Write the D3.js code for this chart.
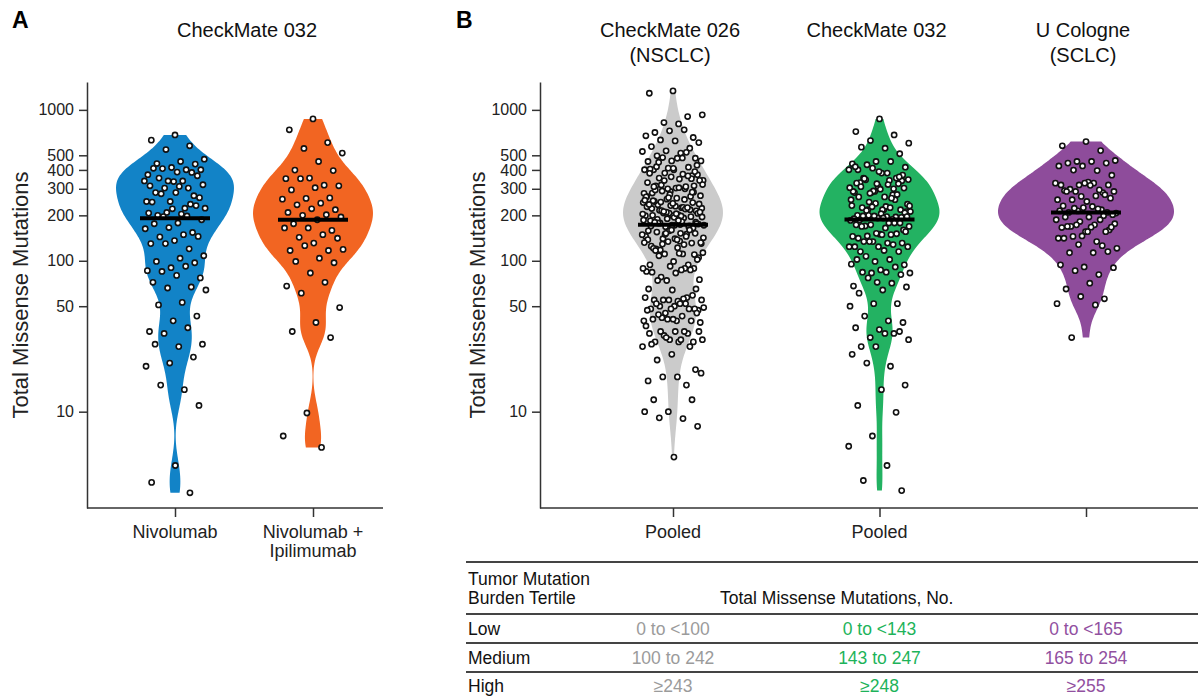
<!DOCTYPE html>
<html>
<head>
<meta charset="utf-8">
<script src="https://cdn.jsdelivr.net/npm/d3@7"></script>
<style>
  body { margin: 0; background: #fff; }
  svg { font-family: "Liberation Sans", Arial, Helvetica, sans-serif; }
</style>
</head>
<body>
<svg id="chart" width="1198" height="698"></svg>
<script>
// ---- data (total missense mutations per patient) ----
const nivolumab = [682, 630, 578, 546, 471, 455, 441, 437, 415, 372, 401, 408, 401, 387, 410, 385,
  338, 338, 338, 353, 366, 335, 314, 303, 303, 319, 311, 283, 270, 247, 247, 223, 278, 262, 283, 245,
  237, 209, 223, 204, 200, 232, 221, 207, 198, 196, 187, 178, 176, 154, 166, 163, 149, 144, 145, 136,
  130, 120, 130, 108, 104, 99, 97, 90, 86, 92, 85, 77, 80, 72, 67, 66, 64, 53, 51, 43, 40, 34, 36, 33,
  28, 27, 28, 23, 21, 20, 14, 15, 11, 4.4, 3.4, 2.9];

const nivoIpi = [871, 738, 607, 555, 517, 455, 399, 396, 353, 350, 317, 350, 314, 305, 295, 261, 259,
  256, 241, 235, 218, 221, 209, 202, 200, 195, 187, 176, 159, 165, 165, 149, 143, 141, 131, 117, 117,
  126, 119, 104, 99, 97, 83, 68, 72, 61, 49, 39, 34, 31, 9.8, 6.9, 5.8];

const cm026 = [1336, 1289, 903, 824, 927, 807, 708, 656, 726, 673, 738, 632, 607, 623, 571, 557, 535,
  530, 517, 496, 478, 459, 455, 523, 483, 459, 478, 401, 366, 411, 401, 375, 353, 372, 401, 405, 417,
  381, 341, 348, 314, 314, 288, 267, 300, 318, 341, 303, 281, 267, 256, 243, 225, 235, 214, 199, 231,
  223, 207, 223, 202, 247, 243, 207, 199, 192, 178, 175, 172, 170, 170, 168, 172, 174,
  420, 390, 360, 330, 310, 290, 270, 260, 250, 350, 300, 280,
  480, 450, 430, 410, 380, 365, 340, 320, 305, 295, 285, 275, 265, 255, 245, 238, 230, 222, 218, 210,
  204, 198, 188, 180, 172,
  158, 150, 140, 130, 122, 310, 285, 262, 252, 226, 216, 206, 194, 184, 168, 150, 142, 135, 120, 110,
  232, 228, 220, 215, 210, 205, 200, 196, 190, 186, 182, 178, 176, 240, 236, 225, 212, 195, 185, 180,
  165, 158, 145, 128, 118, 105, 140, 125,
  160, 152, 149, 152, 155, 152, 160, 138, 145, 129, 132, 138, 121, 131, 134, 132,
  111, 108, 102, 99, 94, 94, 111, 113, 112, 117, 89, 92, 85, 89, 78, 75, 83, 84, 87, 74, 89, 87, 74,
  65, 64, 65, 57, 55, 55, 54, 55, 59, 55, 57, 56, 50, 47, 50, 48, 48, 45, 49, 52, 52, 48, 48, 47, 52,
  42, 39, 40, 41, 40, 41, 40, 43, 44, 45, 41, 33, 33, 32, 30, 29, 29, 29, 30, 37, 34, 34, 34, 34,
  28, 27, 31, 27, 30, 22, 19, 24, 16, 15, 17, 18, 17, 12, 12, 10, 10, 9.0, 9.1, 8.0, 5.0];

const cm032 = [871, 718, 682, 626, 602, 557, 566, 512, 455, 439, 455, 433, 417, 381, 401, 353,
  411, 401, 381, 353, 339, 311, 283, 274, 245, 237, 218,
  330, 324, 288, 254, 341, 344, 303, 298, 327, 254, 283, 231, 229, 225, 218, 324, 288, 260, 218, 212, 218,
  265, 275, 290, 305, 320, 350, 370, 390, 420, 300, 280, 345, 265, 310, 360,
  240, 232, 225, 215, 208, 205, 200, 195, 228, 212,
  196, 198, 194, 192, 190, 188, 200, 196, 192, 186, 182, 198,
  185, 178, 170, 160, 150, 173, 178, 173, 169, 165, 169, 178,
  152, 145, 149, 146, 156, 149, 141, 151, 134, 124, 131, 134, 131, 124, 124, 128, 134, 124, 117, 115, 115,
  99, 95, 102, 107, 94, 87, 102, 91, 83, 83, 84, 84, 81, 72, 68, 71, 77,
  67, 64, 61, 52, 52, 50, 40, 43, 39, 35, 36, 33, 31, 30, 33, 27, 34, 27, 24,
  20, 21, 15, 14, 11, 9.9, 6.9, 5.9, 4.4, 3.5, 3.0];

const cologne = [616, 578, 537, 455, 462, 455, 444, 444, 425, 425, 396, 399, 369,
  332, 292, 283, 318, 327, 327, 298, 318, 327, 318, 295, 288, 288, 316, 288, 274, 267, 254,
  269, 254, 260, 247, 231, 218, 214, 207, 229, 209, 209, 225, 214, 221, 223, 202,
  195, 195, 199, 182, 187, 173, 169, 160, 156, 166, 187, 173, 176, 167, 169, 156, 146, 141, 134, 145,
  167, 156, 141, 126, 128, 121, 113, 113, 115, 91, 94, 81, 86, 90, 71, 65, 56, 58, 52, 51, 31];

const panelAArms = ["Nivolumab", "Nivolumab + Ipilimumab"];
const panelAArmLines = [["Nivolumab"], ["Nivolumab +", "Ipilimumab"]];
const panelBCohorts = ["CheckMate 026 (NSCLC)", "CheckMate 032", "U Cologne (SCLC)"];
const panelBTitleLines = [["CheckMate 026", "(NSCLC)"], ["CheckMate 032"], ["U Cologne", "(SCLC)"]];
const panelBTickLabels = ["Pooled", "Pooled", ""];
const yTicks = [10, 50, 100, 200, 300, 400, 500, 1000];

const tertiles = ["Low", "Medium", "High"];
const cm026Ranges = ["0 to <100", "100 to 242", "≥243"];
const cm032Ranges = ["0 to <143", "143 to 247", "≥248"];
const cologneRanges = ["0 to <165", "165 to 254", "≥255"];

// ---- layout ----
const plotTop = 82, plotBottom = 508;
const axisColor = '#333';
const svg = d3.select('#chart');

const y = d3.scaleLog().domain([2.3, 1530]).range([plotBottom, plotTop]);
const xA = d3.scalePoint().domain(panelAArms).range([175, 313]);
const xB = d3.scalePoint().domain(panelBCohorts).range([673, 1086]);

const jitterWidth = 31;

// kernel density on log10 values, trimmed to the data range
function drawViolin(g, values, cx, halfWidth, color, bandwidth) {
  const logs = values.map((v) => Math.log10(v));
  const lo = d3.min(logs), hi = d3.max(logs);
  const grid = d3.range(0, 151).map((i) => lo + ((hi - lo) * i) / 150);
  const dens = grid.map((t) => [t, d3.sum(logs, (l) => Math.exp(-0.5 * ((t - l) / bandwidth) ** 2))]);
  const w = d3.scaleLinear().domain([0, d3.max(dens, (d) => d[1])]).range([0, halfWidth]);

  g.append('path')
    .datum(dens)
    .attr('fill', color)
    .attr('d', d3.area()
      .curve(d3.curveBasis)
      .y((d) => y(Math.pow(10, d[0])))
      .x0((d) => cx - w(d[1]))
      .x1((d) => cx + w(d[1])));

  g.selectAll(null)
    .data(values)
    .enter()
    .append('circle')
    .attr('cx', (d, i) => cx + (((i * 0.6180339887 + 0.5) % 1) * 2 - 1) * jitterWidth)
    .attr('cy', (d) => y(d))
    .attr('r', 2.6)
    .attr('fill', 'white')
    .attr('stroke', '#111')
    .attr('stroke-width', 1.6);

  const med = d3.median(values);
  g.append('line')
    .attr('x1', cx - 35).attr('x2', cx + 35)
    .attr('y1', y(med)).attr('y2', y(med))
    .attr('stroke', '#000')
    .attr('stroke-width', 4);
}

function drawYAxis(xPos, labelX) {
  const g = svg.append('g')
    .attr('transform', 'translate(' + xPos + ',0)')
    .call(d3.axisLeft(y).tickValues(yTicks).tickFormat(d3.format('d'))
      .tickSize(8).tickSizeOuter(0).tickPadding(5));
  g.selectAll('path, line').attr('stroke', axisColor).attr('stroke-width', 1.5);
  g.selectAll('text').attr('font-size', 16).attr('fill', '#222')
    .attr('font-family', '"Liberation Sans", Arial, sans-serif');

  svg.append('text')
    .attr('transform', 'translate(' + labelX + ',' + (plotTop + plotBottom) / 2 + ') rotate(-90)')
    .attr('text-anchor', 'middle')
    .attr('font-size', 22)
    .attr('fill', '#222')
    .text('Total Missense Mutations');
}

function drawXAxis(scale, x0, x1, lines) {
  svg.append('line')
    .attr('x1', x0).attr('x2', x1)
    .attr('y1', plotBottom).attr('y2', plotBottom)
    .attr('stroke', axisColor).attr('stroke-width', 1.5);
  const g = svg.append('g')
    .attr('transform', 'translate(0,' + plotBottom + ')')
    .call(d3.axisBottom(scale).tickSize(9).tickSizeOuter(0).tickFormat(''));
  g.select('.domain').remove();
  g.selectAll('line').attr('stroke', axisColor).attr('stroke-width', 1.5);
  scale.domain().forEach((d, i) => {
    const t = svg.append('text')
      .attr('text-anchor', 'middle')
      .attr('font-size', 18)
      .attr('fill', '#222');
    lines[i].forEach((line, j) => {
      t.append('tspan').attr('x', scale(d)).attr('y', 538 + j * 19).text(line);
    });
  });
}

// ---- panel A ----
svg.append('text').attr('x', 12).attr('y', 28).attr('font-size', 23)
  .attr('font-weight', 'bold').text('A');
svg.append('text').attr('x', 247).attr('y', 37).attr('text-anchor', 'middle')
  .attr('font-size', 20).attr('fill', '#111').text('CheckMate 032');

const gA = svg.append('g');
drawViolin(gA, nivolumab, xA(panelAArms[0]), 59, '#1283c7', 0.1);
drawViolin(gA, nivoIpi, xA(panelAArms[1]), 60, '#f26522', 0.1);
drawYAxis(87, 28);
drawXAxis(xA, 87, 383, panelAArmLines);

// ---- panel B ----
svg.append('text').attr('x', 456).attr('y', 28).attr('font-size', 23)
  .attr('font-weight', 'bold').text('B');
panelBCohorts.forEach((c, i) => {
  const t = svg.append('text').attr('text-anchor', 'middle')
    .attr('font-size', 20).attr('fill', '#111');
  panelBTitleLines[i].forEach((line, j) => {
    t.append('tspan').attr('x', xB(c) - 3).attr('y', 37 + j * 25).text(line);
  });
});

const gB = svg.append('g');
drawViolin(gB, cm026, xB(panelBCohorts[0]), 50, '#cbcbcb', 0.13);
drawViolin(gB, cm032, xB(panelBCohorts[1]), 60, '#23b262', 0.1);
drawViolin(gB, cologne, xB(panelBCohorts[2]), 88, '#8e4c9b', 0.1);
drawYAxis(540, 485);
drawXAxis(xB, 540, 1198, panelBTickLabels.map((l) => [l]));

// ---- tertile table ----
const table = svg.append('g').attr('font-size', 17.5);
const tableLeft = 466;
[562, 614, 643, 672].forEach((ly) => {
  table.append('line').attr('x1', tableLeft).attr('x2', 1198)
    .attr('y1', ly).attr('y2', ly)
    .attr('stroke', '#444').attr('stroke-width', 2);
});
table.append('text').attr('x', tableLeft + 2).attr('y', 585).attr('fill', '#111').text('Tumor Mutation');
table.append('text').attr('x', tableLeft + 2).attr('y', 604).attr('fill', '#111').text('Burden Tertile');
table.append('text').attr('x', 720).attr('y', 604).attr('fill', '#111').text('Total Missense Mutations, No.');

const rowY = d3.scalePoint().domain(tertiles).range([635, 692]);
const rangeCols = [
  { ranges: cm026Ranges, color: '#9b9b9b' },
  { ranges: cm032Ranges, color: '#1db35a' },
  { ranges: cologneRanges, color: '#91509f' },
];
tertiles.forEach((t, r) => {
  table.append('text').attr('x', tableLeft + 2).attr('y', rowY(t)).attr('fill', '#111').text(t);
  rangeCols.forEach((col, c) => {
    table.append('text')
      .attr('x', xB(panelBCohorts[c]))
      .attr('y', rowY(t))
      .attr('text-anchor', 'middle')
      .attr('fill', col.color)
      .text(col.ranges[r]);
  });
});
</script>
</body>
</html>
